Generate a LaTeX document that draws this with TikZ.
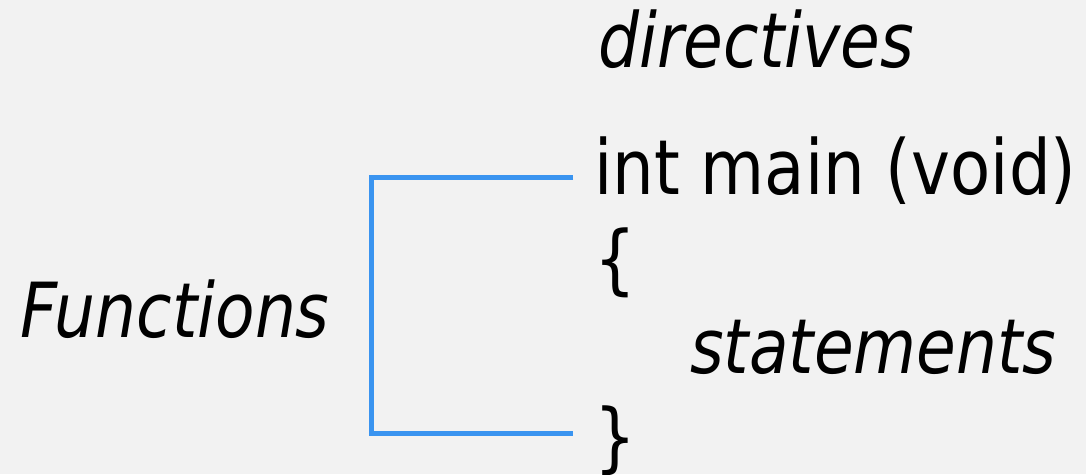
\documentclass[tikz,border=0pt]{standalone}
\usepackage{fontspec}
\setmainfont{DejaVu Sans}
\newfontfamily\codefont[FakeStretch=0.865]{DejaVu Sans}
\newfontfamily\notefont[FakeStretch=0.85]{DejaVu Sans}
\definecolor{bg}{HTML}{F2F2F2}
\definecolor{bracketblue}{HTML}{3A94F0}
\begin{document}
\begin{tikzpicture}[x=1pt,y=1pt,
  txt/.style={anchor=base west,inner sep=0pt,font=\fontsize{76}{90}\codefont},
  itxt/.style={anchor=base west,inner sep=0pt,font=\fontsize{76}{90}\notefont\itshape},
  bracket/.style={draw=bracketblue,line width=5pt}]
  \fill[bg] (0,0) rectangle (1086,-474);
  \useasboundingbox (0,0) rectangle (1086,-474);
  % program skeleton
  \node[itxt] (dir) at (598,-67) {directives};
  \node[txt] (intm) at (594,-194) {int main (void)};
  \node[txt] (open) at (594,-285) {\{};
  \node[itxt] (stmt) at (690,-373) {statements};
  \node[txt] (close) at (594,-463) {\}};
  \node[itxt] (fn) at (20,-337) {Functions};
  % bracket grouping the function body
  \draw[bracket] ([xshift=-21pt,yshift=17pt]intm.base west) -- ++(-202,0)
    |- ([xshift=-21pt,yshift=30pt]close.base west);
\end{tikzpicture}
\end{document}
